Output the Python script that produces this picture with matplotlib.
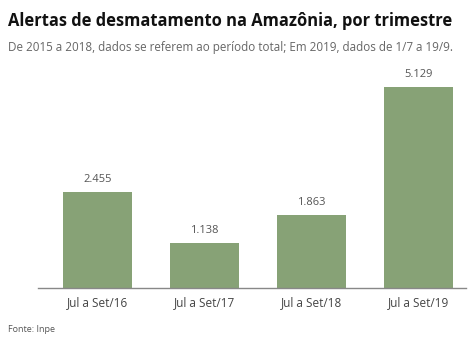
import matplotlib
matplotlib.use("Agg")
import matplotlib.pyplot as plt

# dados
periodos = ["Jul a Set/16", "Jul a Set/17", "Jul a Set/18", "Jul a Set/19"]
alertas = [2455, 1138, 1863, 5129]
rotulos = ["2.455", "1.138", "1.863", "5.129"]

plt.rcParams['font.family'] = ['Open Sans', 'DejaVu Sans']

fig = plt.figure(figsize=(4.77, 3.47), dpi=100)
ax = fig.add_axes([38/477, 59/347, 428/477, 228/347])

x = range(len(periodos))
ax.bar(x, alertas, width=0.645, color='#87a276')

for i in x:
    ax.text(i, alertas[i] + 180, rotulos[i], ha='center', va='bottom', fontsize=8, color='#555555')

ax.set_xlim(-0.556, 3.444)
ax.set_ylim(0, 5818)
ax.set_xticks(list(x))
ax.set_xticklabels(periodos, fontsize=8.5, color='#444444')
ax.tick_params(axis='x', length=0, pad=6)
ax.set_yticks([])

for s in ['top', 'right', 'left']:
    ax.spines[s].set_visible(False)
ax.spines['bottom'].set_color('#888888')
ax.spines['bottom'].set_linewidth(1)

# titulo, subtitulo e fonte
fig.text(8/477, 1 - 21/347, "Alertas de desmatamento na Amazônia, por trimestre",
         fontsize=11.9, fontweight='bold', color='#111111', va='center')
fig.text(8/477, 1 - 48/347, "De 2015 a 2018, dados se referem ao período total; Em 2019, dados de 1/7 a 19/9.",
         fontsize=8.4, color='#666666', va='center')
fig.text(8/477, 1 - 329/347, "Fonte: Inpe", fontsize=6.5, color='#555555', va='center')

plt.savefig("out.png", dpi=100)
